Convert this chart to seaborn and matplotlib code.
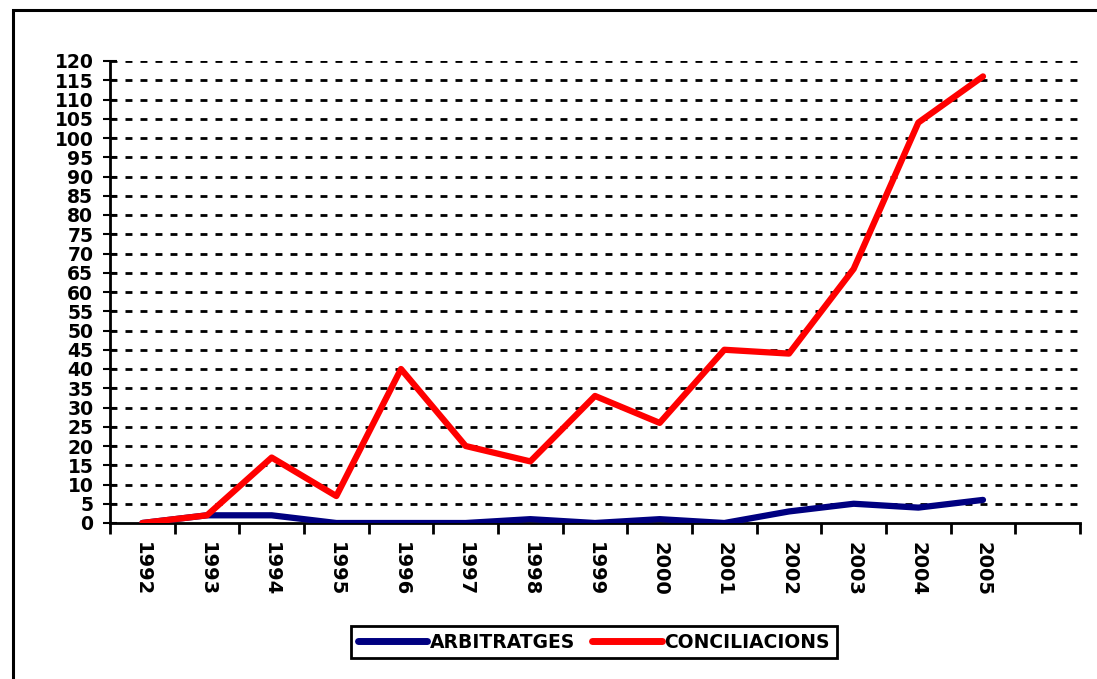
import pandas as pd
import matplotlib.pyplot as plt
import seaborn as sns
from matplotlib.patches import Rectangle

years = ['1992', '1993', '1994', '1995', '1996', '1997', '1998',
         '1999', '2000', '2001', '2002', '2003', '2004', '2005']
arbitratges = [0, 2, 2, 0, 0, 0, 1, 0, 1, 0, 3, 5, 4, 6]
conciliacions = [0, 2, 17, 7, 40, 20, 16, 33, 26, 45, 44, 66, 104, 116]

df = pd.DataFrame({
    'x': list(range(len(years))) * 2,
    'value': arbitratges + conciliacions,
    'serie': ['ARBITRATGES'] * len(years) + ['CONCILIACIONS'] * len(years),
})

sns.set_style('white')
plt.rcParams['font.family'] = ['DejaVu Sans']
plt.rcParams['font.weight'] = 'bold'
plt.rcParams['text.color'] = 'black'
plt.rcParams['xtick.color'] = 'black'
plt.rcParams['ytick.color'] = 'black'

fig = plt.figure(figsize=(10.97, 6.79), dpi=100)
ax = fig.add_axes([110 / 1097, 1 - 523 / 679, 970 / 1097, 462 / 679])

# outer frame
fig.patches.append(Rectangle((13 / 1097, -0.05), 1.2, 1 - 10 / 679 + 0.05,
                             transform=fig.transFigure, fill=False,
                             edgecolor='black', linewidth=2.2))

sns.lineplot(data=df, x='x', y='value', hue='serie',
             palette={'ARBITRATGES': '#000080', 'CONCILIACIONS': '#ff0000'},
             linewidth=4.5, ax=ax, legend=False, zorder=3)

ax.set_xlim(-0.5, 14.5)
ax.set_ylim(0, 120)
ax.set_yticks(range(0, 121, 5))
ax.set_xticks(range(len(years)))
ax.set_xticklabels(years, rotation=270, fontsize=14, fontweight='bold')
ax.set_xticks([i - 0.5 for i in range(16)], minor=True)
ax.tick_params(axis='x', which='major', bottom=True, length=0, pad=14)
ax.tick_params(axis='x', which='minor', bottom=True, length=8, width=2,
               direction='out', color='black')
ax.tick_params(axis='y', left=True, length=10, width=1.5, direction='inout',
               color='black', labelsize=13.5, pad=7)
for lab in ax.get_yticklabels():
    lab.set_fontweight('bold')

for y in range(5, 121, 5):
    ax.axhline(y, color='black', linewidth=2, linestyle=(0, (2.5, 2.9)),
               zorder=1)

for s in ['top', 'right']:
    ax.spines[s].set_visible(False)
for s in ['left', 'bottom']:
    ax.spines[s].set_color('black')
    ax.spines[s].set_linewidth(2)
ax.set_xlabel('')
ax.set_ylabel('')

h1, = ax.plot([], [], color='#000080', linewidth=5, solid_capstyle='round')
h2, = ax.plot([], [], color='#ff0000', linewidth=5, solid_capstyle='round')
leg = fig.legend([h1, h2], ['ARBITRATGES', 'CONCILIACIONS'], ncol=2,
                 loc='center', bbox_to_anchor=(594 / 1097, 1 - 642 / 679),
                 frameon=True, fancybox=False, framealpha=1, handlelength=3.7,
                 handletextpad=0.15, columnspacing=0.9, borderpad=0.35,
                 prop={'weight': 'bold', 'size': 13.5})
leg.get_frame().set_edgecolor('black')
leg.get_frame().set_linewidth(2)

plt.savefig('out.png', dpi=100)
